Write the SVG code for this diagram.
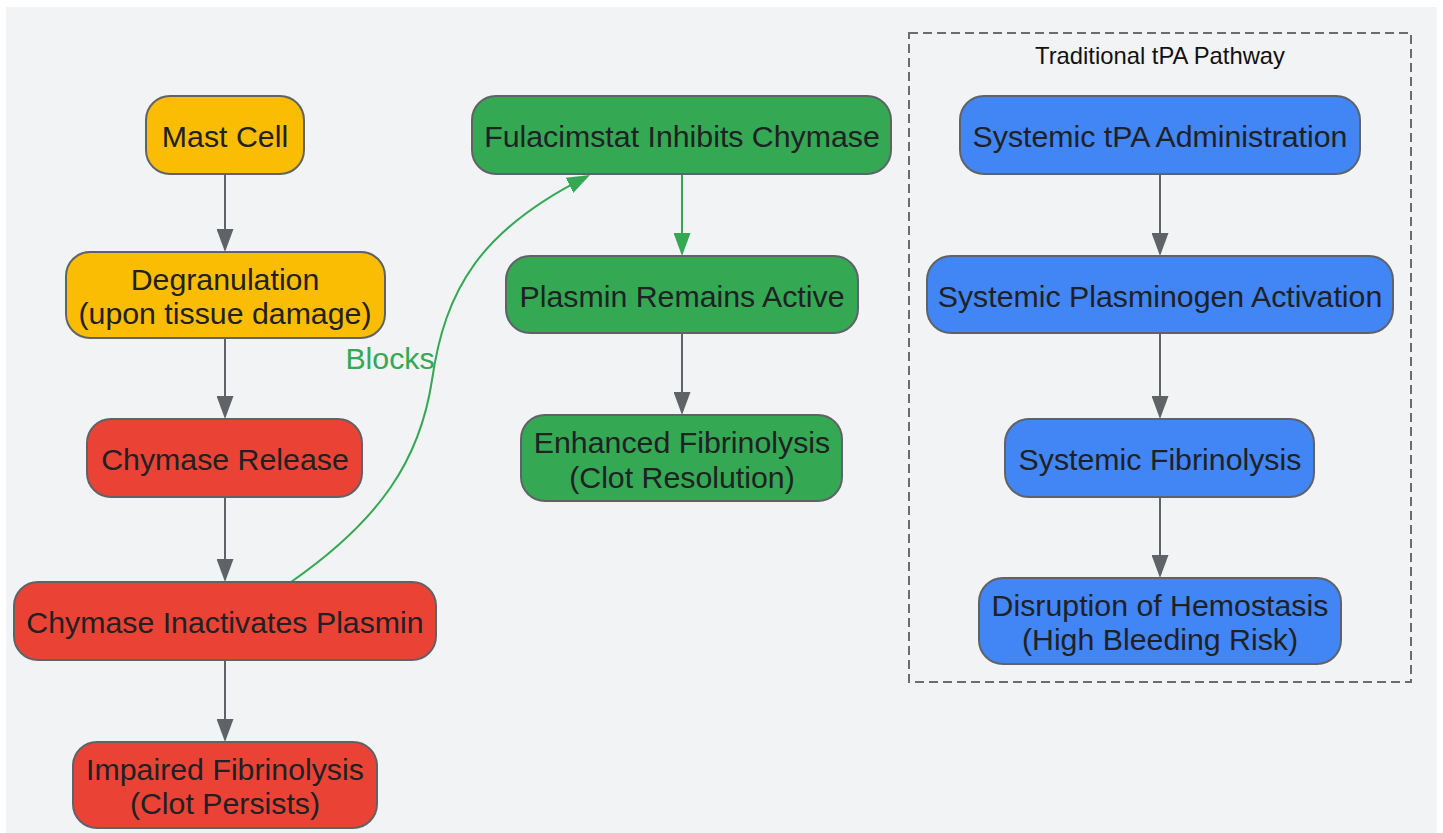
<svg xmlns="http://www.w3.org/2000/svg" width="1443" height="833" viewBox="0 0 1443 833">
  <style>
    .node rect { stroke: #5f6368; stroke-width: 2; }
    .yellow rect { fill: #fbbc04; }
    .red rect { fill: #ea4335; }
    .green rect { fill: #34a853; }
    .blue rect { fill: #4285f4; }
    .node text { font-family: "Liberation Sans", Arial, sans-serif; font-size: 30.3px; fill: #202124; text-anchor: middle; }
    .edge { fill: none; stroke: #5f6368; stroke-width: 2; }
    .edge.g { stroke: #34a853; }
    .title { font-family: "Liberation Sans", Arial, sans-serif; font-size: 23.8px; fill: #111111; text-anchor: middle; }
    .elabel { font-family: "Liberation Sans", Arial, sans-serif; font-size: 30.3px; fill: #34a853; text-anchor: middle; }
  </style>
  <defs>
    <marker id="ah" viewBox="0 0 23 17" markerWidth="23" markerHeight="17" refX="19" refY="8.5" orient="auto" markerUnits="userSpaceOnUse">
      <path d="M0,0 L23,8.5 L0,17 z" fill="#5f6368"/>
    </marker>
    <marker id="ahg" viewBox="0 0 23 17" markerWidth="23" markerHeight="17" refX="19" refY="8.5" orient="auto" markerUnits="userSpaceOnUse">
      <path d="M0,0 L23,8.5 L0,17 z" fill="#34a853"/>
    </marker>
  </defs>
  <rect x="0" y="0" width="1443" height="833" fill="#ffffff"/>
  <rect x="6" y="7" width="1431" height="826" fill="#f1f3f5"/>

  <g id="cluster-tpa">
    <rect x="909" y="33" width="502" height="649" fill="none" stroke="#6b6b70" stroke-width="2" stroke-dasharray="9 5"/>
    <text class="title" x="1160" y="64">Traditional tPA Pathway</text>
  </g>

  <g id="connectors">
    <path class="edge" d="M225,174 L225,248" marker-end="url(#ah)"/>
    <path class="edge" d="M225,338 L225,415" marker-end="url(#ah)"/>
    <path class="edge" d="M225,497 L225,578" marker-end="url(#ah)"/>
    <path class="edge" d="M225,660 L225,738" marker-end="url(#ah)"/>
    <path class="edge g" d="M682,174 L682,252" marker-end="url(#ahg)"/>
    <path class="edge" d="M682,333 L682,411" marker-end="url(#ah)"/>
    <path class="edge" d="M1160,174 L1160,252" marker-end="url(#ah)"/>
    <path class="edge" d="M1160,333 L1160,415" marker-end="url(#ah)"/>
    <path class="edge" d="M1160,497 L1160,574" marker-end="url(#ah)"/>
    <path class="edge g" d="M291,582 C380,520 420,460 432,380 C445,290 480,230 586.4,176.8" marker-end="url(#ahg)"/>
    <text class="elabel" x="390" y="369">Blocks</text>
  </g>

  <g id="mast-cell" class="node yellow">
    <rect x="146" y="96" width="158" height="78" rx="24"/>
    <text x="225" y="147">Mast Cell</text>
  </g>
  <g id="degranulation" class="node yellow">
    <rect x="66" y="252" width="319" height="86" rx="24"/>
    <text x="225" y="289.5">Degranulation</text>
    <text x="225" y="324">(upon tissue damage)</text>
  </g>
  <g id="chymase-release" class="node red">
    <rect x="87" y="419" width="275" height="78" rx="24"/>
    <text x="225" y="470">Chymase Release</text>
  </g>
  <g id="chymase-inactivates" class="node red">
    <rect x="14" y="582" width="422" height="78" rx="24"/>
    <text x="225" y="633">Chymase Inactivates Plasmin</text>
  </g>
  <g id="impaired" class="node red">
    <rect x="73" y="742" width="304" height="86" rx="24"/>
    <text x="225" y="779.5">Impaired Fibrinolysis</text>
    <text x="225" y="814">(Clot Persists)</text>
  </g>

  <g id="fulacimstat" class="node green">
    <rect x="472" y="96" width="419" height="78" rx="24"/>
    <text x="682" y="147">Fulacimstat Inhibits Chymase</text>
  </g>
  <g id="plasmin-active" class="node green">
    <rect x="506" y="256" width="352" height="77" rx="24"/>
    <text x="682" y="306.5">Plasmin Remains Active</text>
  </g>
  <g id="enhanced" class="node green">
    <rect x="521" y="415" width="321" height="86" rx="24"/>
    <text x="682" y="453">Enhanced Fibrinolysis</text>
    <text x="682" y="487.5">(Clot Resolution)</text>
  </g>

  <g id="tpa-admin" class="node blue">
    <rect x="960" y="96" width="400" height="78" rx="24"/>
    <text x="1160" y="147">Systemic tPA Administration</text>
  </g>
  <g id="plasminogen" class="node blue">
    <rect x="927" y="256" width="466" height="77" rx="24"/>
    <text x="1160" y="306.5">Systemic Plasminogen Activation</text>
  </g>
  <g id="systemic-fibrinolysis" class="node blue">
    <rect x="1005" y="419" width="309" height="78" rx="24"/>
    <text x="1160" y="470">Systemic Fibrinolysis</text>
  </g>
  <g id="disruption" class="node blue">
    <rect x="979" y="578" width="362" height="86" rx="24"/>
    <text x="1160" y="615.5">Disruption of Hemostasis</text>
    <text x="1160" y="650">(High Bleeding Risk)</text>
  </g>
</svg>
